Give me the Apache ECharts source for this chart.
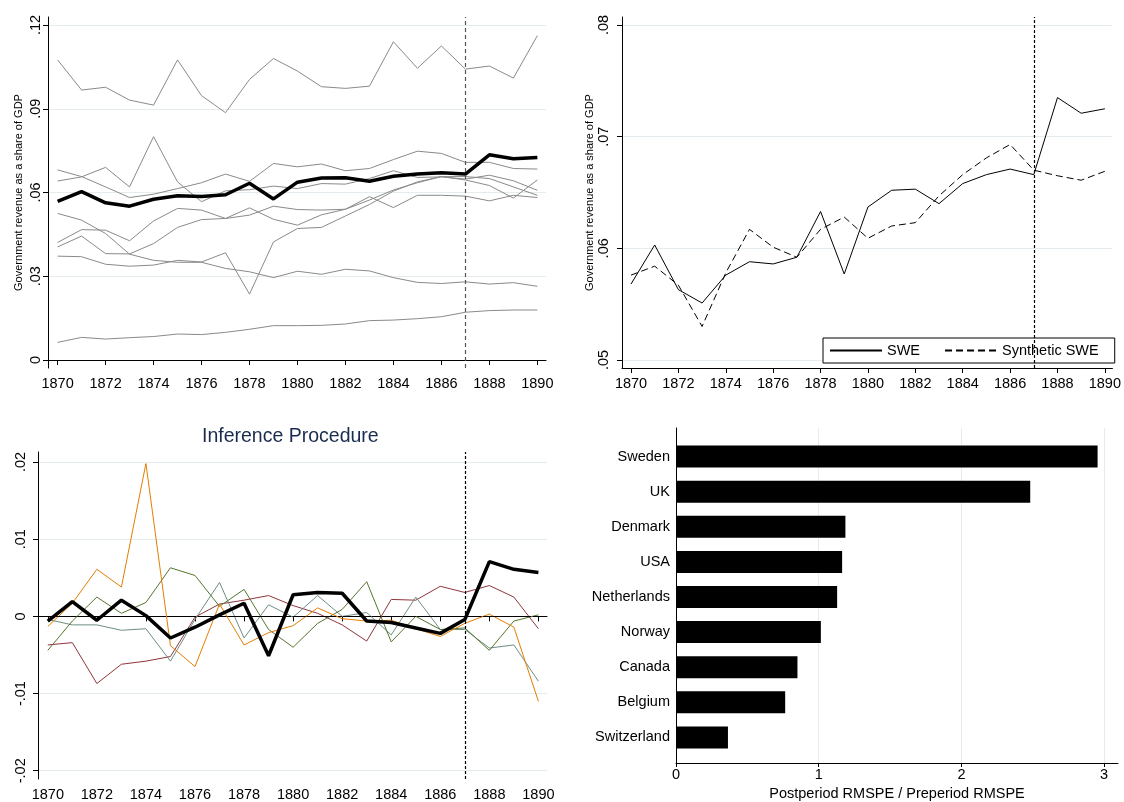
<!DOCTYPE html>
<html><head><meta charset="utf-8">
<script src="https://cdn.jsdelivr.net/npm/echarts@6/dist/echarts.min.js"></script>
<style>html,body{margin:0;padding:0;background:#fff}#c{width:1124px;height:802px}</style>
</head><body><div id="c"></div>
<script>
// ---------- DATA ----------
const years = [1870,1871,1872,1873,1874,1875,1876,1877,1878,1879,1880,1881,1882,1883,1884,1885,1886,1887,1888,1889,1890];
const xTicks = [1870,1872,1874,1876,1878,1880,1882,1884,1886,1888,1890];
const treatYear = 1887;

// Panel 1 & 2: Sweden vs donor pool / synthetic
const sweden = [0.0568,0.0603,0.0563,0.0551,0.0576,0.0588,0.0586,0.0592,0.0633,0.0577,0.0637,0.0652,0.0653,0.0640,0.0658,0.0666,0.0671,0.0666,0.0735,0.0721,0.0725];
const syntheticSweden = [0.0576,0.0584,0.0567,0.0530,0.0578,0.0617,0.0601,0.0592,0.0617,0.0628,0.0609,0.0620,0.0623,0.0647,0.0666,0.0681,0.0693,0.0670,0.0665,0.0661,0.0669];
const donorA = [0.1075,0.0967,0.0977,0.0931,0.0913,0.1075,0.0947,0.0886,0.1005,0.1080,0.1035,0.0979,0.0973,0.0981,0.1140,0.1045,0.1125,0.1042,0.1053,0.1010,0.1162];
const donorB = [0.0681,0.0657,0.0620,0.0582,0.0594,0.0614,0.0635,0.0666,0.0640,0.0704,0.0692,0.0702,0.0678,0.0686,0.0718,0.0748,0.0740,0.0708,0.0708,0.0686,0.0684];
const donorC = [0.0641,0.0656,0.0690,0.0620,0.0800,0.0638,0.0567,0.0606,0.0610,0.0623,0.0614,0.0632,0.0630,0.0650,0.0678,0.0654,0.0656,0.0648,0.0662,0.0642,0.0608];
const donorD = [0.0421,0.0467,0.0465,0.0427,0.0498,0.0543,0.0537,0.0507,0.0545,0.0504,0.0483,0.0520,0.0540,0.0585,0.0546,0.0590,0.0590,0.0587,0.0570,0.0590,0.0582];
const donorE = [0.0405,0.0444,0.0381,0.0380,0.0417,0.0475,0.0503,0.0507,0.0519,0.0551,0.0539,0.0537,0.0540,0.0573,0.0609,0.0635,0.0657,0.0645,0.0625,0.0580,0.0645];
const donorF = [0.0372,0.0370,0.0343,0.0336,0.0340,0.0357,0.0351,0.0384,0.0236,0.0423,0.0471,0.0475,0.0516,0.0557,0.0605,0.0638,0.0657,0.0657,0.0650,0.0620,0.0590];
const donorG = [0.0525,0.0501,0.0453,0.0379,0.0357,0.0350,0.0350,0.0328,0.0316,0.0295,0.0318,0.0307,0.0325,0.0319,0.0295,0.0278,0.0274,0.0280,0.0272,0.0277,0.0264];
const donorH = [0.0063,0.0081,0.0075,0.0080,0.0084,0.0093,0.0091,0.0099,0.0110,0.0123,0.0123,0.0124,0.0129,0.0141,0.0143,0.0148,0.0155,0.0171,0.0177,0.0179,0.0179];
const tlTicks = [0, 0.03, 0.06, 0.09, 0.12];
const trTicks = [0.05, 0.06, 0.07, 0.08];

// Panel 3: gaps (placebo)
const gapSweden = [-0.0006,0.0019,-0.0005,0.0021,0.0001,-0.0028,-0.0014,0.0002,0.0017,-0.0051,0.0028,0.0031,0.0030,-0.0006,-0.0008,-0.0015,-0.0022,-0.0004,0.0071,0.0061,0.0057];
const gapOrange = [-0.0013,0.0017,0.0061,0.0038,0.0198,-0.0038,-0.0065,0.0016,-0.0037,-0.0021,-0.0012,0.0011,-0.0003,-0.0006,-0.0005,-0.0016,-0.0026,-0.0009,0.0003,-0.0014,-0.0110];
const gapGreen = [-0.0044,-0.0006,0.0025,0.0004,0.0018,0.0063,0.0053,0.0013,0.0035,-0.0017,-0.0040,-0.0009,0.0009,0.0045,-0.0033,0.0000,-0.0017,-0.0015,-0.0044,-0.0006,0.0002];
const gapTeal = [-0.0004,-0.0011,-0.0011,-0.0018,-0.0016,-0.0058,-0.0004,0.0044,-0.0028,0.0015,-0.0001,0.0027,0.0000,0.0005,-0.0024,0.0025,-0.0017,-0.0017,-0.0041,-0.0037,-0.0084];
const gapRed = [-0.0037,-0.0034,-0.0087,-0.0062,-0.0058,-0.0052,-0.0001,0.0016,0.0021,0.0027,0.0014,0.0004,-0.0011,-0.0032,0.0022,0.0021,0.0039,0.0031,0.0040,0.0025,-0.0016];
const blTicks = [-0.02, -0.01, 0, 0.01, 0.02];

// Panel 4: RMSPE ratio
const countries = ['Sweden','UK','Denmark','USA','Netherlands','Norway','Canada','Belgium','Switzerland'];
const rmspeRatio = [2.954,2.482,1.187,1.164,1.129,1.015,0.851,0.765,0.364];
const brTicks = [0, 1, 2, 3];

// ---------- CHART ----------
const FONT = 'Liberation Sans, Arial, sans-serif';
const GRID_COLOR = '#e4ecef';
const pair = arr => years.map((y, i) => [y, arr[i]]);
const fmt = v => {
  if (Math.abs(v) < 1e-9) return '0';
  return (v < 0 ? '-' : '') + Math.abs(v).toFixed(2).replace(/^0/, '');
};
function xYearAxis(gridIndex, min, max) {
  return {
    type: 'value', gridIndex, min, max,
    axisLine: { show: true, lineStyle: { color: '#000', width: 1 } },
    axisTick: { show: true, length: 5, lineStyle: { color: '#000' }, customValues: xTicks },
    axisLabel: { color: '#000', fontSize: 14.5, fontFamily: FONT, margin: 8, customValues: xTicks, formatter: v => String(v) },
    splitLine: { show: false }
  };
}
function yValAxis(gridIndex, min, max, ticks, margin, name) {
  const a = {
    type: 'value', gridIndex, min, max,
    axisLine: { show: true, lineStyle: { color: '#000', width: 1 } },
    axisTick: { show: true, length: 5, lineStyle: { color: '#000' }, customValues: ticks },
    axisLabel: { color: '#000', fontSize: 14.5, fontFamily: FONT, rotate: 90, margin, customValues: ticks, formatter: fmt },
    splitLine: { show: true, lineStyle: { color: GRID_COLOR, width: 1 } }
  };
  if (name) {
    a.name = name; a.nameLocation = 'middle'; a.nameGap = 24;
    a.nameTextStyle = { color: '#000', fontSize: 11, fontFamily: FONT };
  }
  return a;
}
const vline = (color, dash) => ({
  silent: true, symbol: 'none', label: { show: false },
  lineStyle: { color, type: dash, width: 1.2 },
  data: [{ xAxis: treatYear }]
});
function line(name, data, xi, color, width, extra) {
  return Object.assign({
    name, type: 'line', xAxisIndex: xi, yAxisIndex: xi, data: pair(data),
    symbol: 'none', showSymbol: false, animation: false,
    lineStyle: { color, width }, itemStyle: { color }
  }, extra || {});
}
const GRAY = '#8a8a8a';
const donors = [donorA, donorB, donorC, donorD, donorE, donorF, donorG, donorH];
const YNAME = 'Government revenue as a share of GDP';

const series = [];
donors.forEach((d, i) => series.push(line('donor' + i, d, 0, GRAY, 1, i === 0 ? { markLine: vline('#555', [4, 3]) } : {})));
series.push(line('Sweden', sweden, 0, '#000', 3.5));

series.push(line('SWE', sweden, 1, '#000', 1, { markLine: vline('#000', [3, 2]) }));
series.push(line('Synthetic SWE', syntheticSweden, 1, '#000', 1, { lineStyle: { color: '#000', width: 1, type: [7, 4] } }));

series.push(line('gRed', gapRed, 2, 'rgb(144,53,59)', 1));
series.push(line('gTeal', gapTeal, 2, 'rgb(110,142,132)', 1));
series.push(line('gGreen', gapGreen, 2, 'rgb(85,117,47)', 1));
series.push(line('gOrange', gapOrange, 2, 'rgb(227,126,0)', 1));
series.push(line('gSweden', gapSweden, 2, '#000', 3.5, {
  markLine: {
    silent: true, symbol: 'none', label: { show: false },
    lineStyle: { color: '#000', type: [3, 2], width: 1.2 },
    data: [{ xAxis: treatYear }, { yAxis: 0 }]
  }
}));

series.push({
  name: 'ratio', type: 'bar', xAxisIndex: 4, yAxisIndex: 4, data: rmspeRatio,
  barWidth: 22, itemStyle: { color: '#000' }, animation: false
});

const option = {
  backgroundColor: '#fff',
  animation: false,
  textStyle: { fontFamily: FONT },
  title: [{
    text: 'Inference Procedure', left: 202, top: 427, padding: 0,
    textStyle: { color: 'rgb(26,43,78)', fontSize: 19.5, fontWeight: 'normal', fontFamily: FONT }
  }],
  legend: {
    data: ['SWE', 'Synthetic SWE'], left: 823, top: 338,
    itemWidth: 52, itemHeight: 16, itemGap: 24,
    padding: [5, 16, 5, 6], borderColor: '#000', borderWidth: 1, borderRadius: 0,
    backgroundColor: '#fff',
    itemStyle: { opacity: 0 },
    textStyle: { color: '#000', fontSize: 14.5, fontFamily: FONT },
    selectedMode: false
  },
  grid: [
    { left: 48, top: 17, width: 498, height: 351 },
    { left: 622, top: 17, width: 496, height: 351 },
    { left: 38, top: 452, width: 509, height: 328 },
    { left: 676, top: 428, width: 442, height: 339 },
    { left: 676, top: 439, width: 442, height: 316 }
  ],
  xAxis: [
    xYearAxis(0, 1869.6, 1890.36),
    xYearAxis(1, 1869.62, 1890.32),
    xYearAxis(2, 1869.6, 1890.35),
    {
      type: 'value', gridIndex: 3, min: 0, max: 3.097,
      axisLine: { show: true, lineStyle: { color: '#000' } },
      axisTick: { show: true, length: 4, lineStyle: { color: '#000' }, customValues: brTicks },
      axisLabel: { color: '#000', fontSize: 14.5, fontFamily: FONT, margin: 4, customValues: brTicks },
      splitLine: { show: true, lineStyle: { color: GRID_COLOR } },
      name: 'Postperiod RMSPE / Preperiod RMSPE', nameLocation: 'middle', nameGap: 23,
      nameTextStyle: { color: '#000', fontSize: 14.5, fontFamily: FONT }
    },
    { type: 'value', gridIndex: 4, min: 0, max: 3.097, show: false }
  ],
  yAxis: [
    yValAxis(0, -0.00287, 0.12287, tlTicks, 5, YNAME),
    yValAxis(1, 0.04928, 0.08072, trTicks, 11, YNAME),
    yValAxis(2, -0.02107, 0.0213, blTicks, 10),
    {
      type: 'value', gridIndex: 3, min: 0, max: 1,
      axisLine: { show: true, lineStyle: { color: '#000' } },
      axisTick: { show: false }, axisLabel: { show: false }, splitLine: { show: false }
    },
    {
      type: 'category', gridIndex: 4, data: countries, inverse: true,
      axisLine: { show: false }, axisTick: { show: false },
      axisLabel: { color: '#000', fontSize: 14.5, fontFamily: FONT, margin: 6 },
      splitLine: { show: false }
    }
  ],
  series
};
const chart = echarts.init(document.getElementById('c'), null, { renderer: 'canvas' });
chart.setOption(option);
</script></body></html>
